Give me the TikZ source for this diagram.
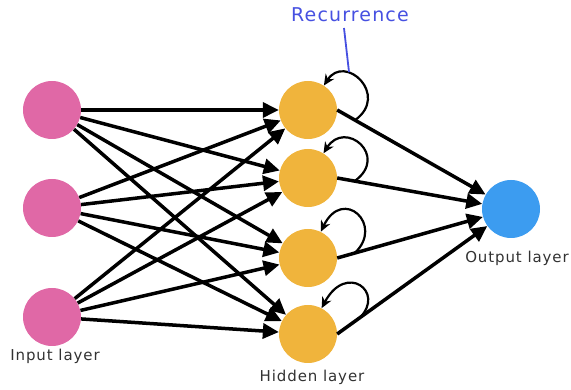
\documentclass[tikz,border=0pt]{standalone}
\usepackage{fontspec}
\setmainfont{DejaVu Sans}[LetterSpace=6]
\usetikzlibrary{arrows.meta}
\definecolor{inpink}{RGB}{224,104,166}
\definecolor{hidorange}{RGB}{240,180,60}
\definecolor{outblue}{RGB}{60,156,240}
\definecolor{recblue}{RGB}{70,80,225}
\definecolor{txtgray}{RGB}{50,50,50}
\begin{document}
\begin{tikzpicture}[x=1pt,y=-1pt,
  neuron/.style={circle,minimum size=58pt,inner sep=0pt},
  conn/.style={line width=3.5pt,-{Triangle[length=16pt,width=15pt]}},
  recur/.style={line width=2.2pt,-{Stealth[length=11pt,width=10pt]}},
  lbl/.style={font=\fontsize{15}{18}\selectfont,text=txtgray}]
\useasboundingbox (0,0) rectangle (571,390);

% neurons
\node[neuron,fill=inpink] (i1) at (52,110) {};
\node[neuron,fill=inpink] (i2) at (52,208) {};
\node[neuron,fill=inpink] (i3) at (52,317) {};
\node[neuron,fill=hidorange] (h1) at (308,110) {};
\node[neuron,fill=hidorange] (h2) at (308,178) {};
\node[neuron,fill=hidorange] (h3) at (308,258) {};
\node[neuron,fill=hidorange] (h4) at (308,334) {};
\node[neuron,fill=outblue] (o) at (511,209) {};

% labels
\node[lbl] (lin) at (55,356) {Input layer};
\node[lbl] (lhid) at (312,377) {Hidden layer};
\node[lbl] (lout) at (517,258) {Output layer};
\node[font=\fontsize{19}{22}\selectfont,text=recblue] (lrec) at (350,15) {Recurrence};

% input -> hidden, fully connected
\foreach \i in {1,2,3}
  \foreach \h in {1,2,3,4}
    \draw[conn] (i\i) -- (h\h);

% hidden -> output, with a point on each line where the loop starts
\foreach \h/\p in {1/0.12,2/0.12,3/0.12,4/0.15}
  \draw[conn] (h\h.east) -- (o) coordinate[pos=\p] (t\h);

% self loops
\draw[recur] (t1) .. controls +(35,-25) and +(37,-57) .. (h1);
\draw[recur] (t2) .. controls +(35,-25) and +(37,-59) .. (h2);
\draw[recur] (t3) .. controls +(30,-28) and +(35,-72) .. (h3);
\draw[recur] (t4) .. controls +(26,-26) and +(38,-72) .. (h4);

% pointer from the label to the first loop
\coordinate (rtop) at (344,28);
\coordinate (rbot) at (349,72);
\draw[recblue,line width=1.8pt] (rtop) -- (rbot);
\end{tikzpicture}
\end{document}
